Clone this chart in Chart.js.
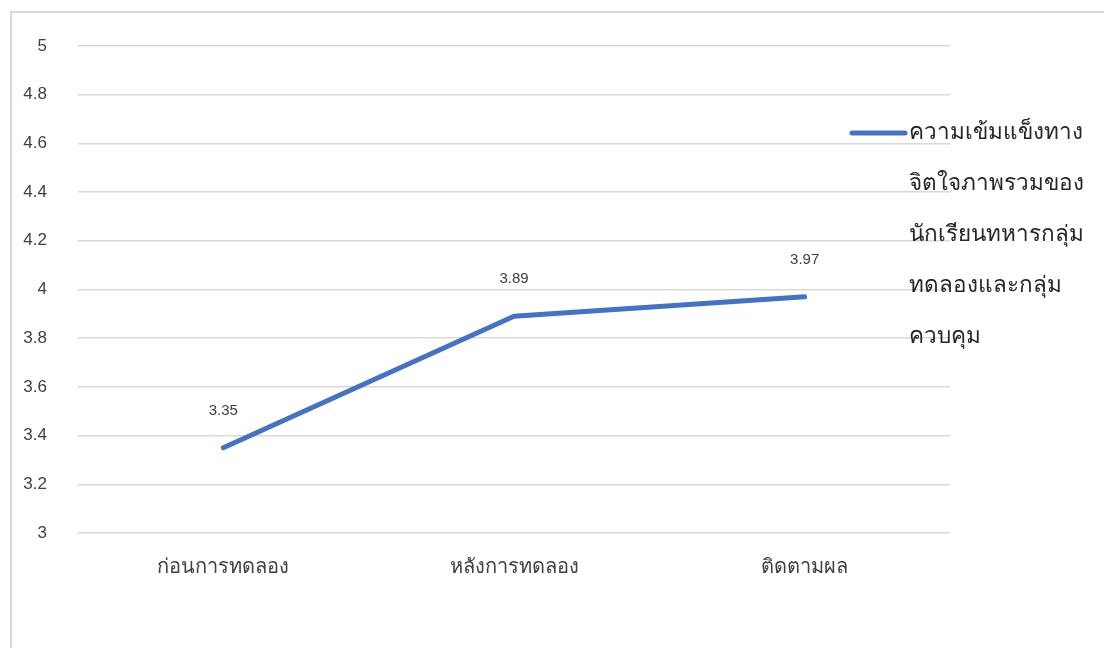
<!DOCTYPE html>
<html>
<head>
<meta charset="utf-8">
<script src="https://cdn.jsdelivr.net/npm/chart.js@4.4.0/dist/chart.umd.min.js"></script>
<style>
  html, body { margin: 0; padding: 0; background: #fff; overflow: hidden; }
  #frame {
    position: absolute; left: 10px; top: 11px;
    width: 1110px; height: 650px;
    border-left: 2px solid #d9d9d9; border-top: 2px solid #d9d9d9;
  }
  #wrap { position: absolute; left: 0; top: 0; width: 1092px; height: 635px; }
</style>
</head>
<body>
<div id="frame"><div id="wrap"><canvas id="chart"></canvas></div></div>
<script>
const phases = ['ก่อนการทดลอง', 'หลังการทดลอง', 'ติดตามผล'];
const scores = [3.35, 3.89, 3.97];
const seriesLabel = ['ความเข้มแข็งทาง', 'จิตใจภาพรวมของ', 'นักเรียนทหารกลุ่ม', 'ทดลองและกลุ่ม', 'ควบคุม'];

const FONT = "'Liberation Sans', 'Noto Sans', 'DejaVu Sans', sans-serif";
const LINE_COLOR = '#4472C4';

// value labels above each point
const valueLabels = {
    id: 'valueLabels',
    afterDatasetsDraw(chart) {
        const ctx = chart.ctx;
        const meta = chart.getDatasetMeta(0);
        ctx.save();
        ctx.fillStyle = '#404040';
        ctx.font = '15px ' + FONT;
        ctx.textAlign = 'center';
        ctx.textBaseline = 'middle';
        meta.data.forEach((pt, i) => {
            ctx.fillText(scores[i].toFixed(2), pt.x, pt.y - 37);
        });
        ctx.restore();
    }
};

// legend on the right, wrapped over several lines
const sideLegend = {
    id: 'sideLegend',
    afterDraw(chart) {
        const ctx = chart.ctx;
        const area = chart.chartArea;
        const x0 = area.right - 98;
        const y0 = area.top + 87;
        ctx.save();
        ctx.strokeStyle = LINE_COLOR;
        ctx.lineWidth = 5;
        ctx.lineCap = 'round';
        ctx.beginPath();
        ctx.moveTo(x0, y0);
        ctx.lineTo(x0 + 53, y0);
        ctx.stroke();
        ctx.fillStyle = '#262626';
        ctx.font = '22.5px ' + FONT;
        ctx.textAlign = 'left';
        ctx.textBaseline = 'middle';
        seriesLabel.forEach((line, i) => {
            ctx.fillText(line, x0 + 57, y0 + i * 51);
        });
        ctx.restore();
    }
};

new Chart('chart', {
    type: 'line',
    data: {
        labels: phases,
        datasets: [{
            label: seriesLabel.join(''),
            data: scores,
            borderColor: LINE_COLOR,
            borderWidth: 5,
            borderCapStyle: 'round',
            borderJoinStyle: 'round',
            pointRadius: 0,
            tension: 0
        }]
    },
    options: {
        responsive: true,
        maintainAspectRatio: false,
        animation: false,
        layout: { padding: { top: 33, right: 154, bottom: 0, left: 0 } },
        plugins: {
            legend: { display: false },
            tooltip: { enabled: false }
        },
        scales: {
            x: {
                offset: true,
                grid: { display: false, drawTicks: false },
                border: { display: false },
                ticks: { color: '#404040', font: { family: FONT, size: 20 }, padding: 22 },
                afterFit(scale) { scale.height = 115; }
            },
            y: {
                min: 3,
                max: 5,
                ticks: {
                    stepSize: 0.2,
                    color: '#404040',
                    font: { family: FONT, size: 17 },
                    padding: 31,
                    callback: v => +v.toFixed(1)
                },
                grid: { color: '#d9d9d9', lineWidth: 1.5, drawTicks: false },
                border: { display: false },
                afterFit(scale) {
                    // tick padding would otherwise push the top of the plot down
                    scale.width = 66;
                    scale.paddingTop = 8;
                    scale.paddingBottom = 8;
                }
            }
        }
    },
    plugins: [valueLabels, sideLegend]
});
</script>
</body>
</html>
